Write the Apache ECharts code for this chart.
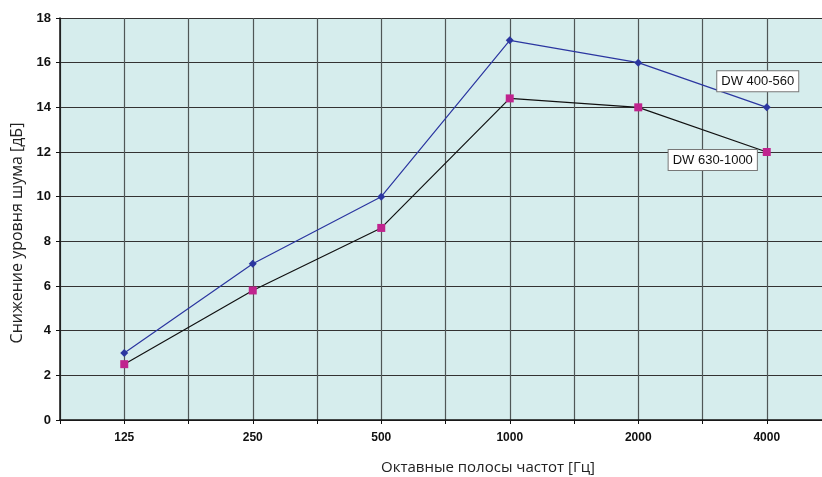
<!DOCTYPE html>
<html><head><meta charset="utf-8">
<script src="https://cdn.jsdelivr.net/npm/echarts@6/dist/echarts.min.js"></script>
<style>html,body{margin:0;padding:0;background:#fff}#c{width:822px;height:477px}</style>
</head><body><div id="c"></div>
<script>
const categories = ['125', '250', '500', '1000', '2000', '4000'];
const dw400 = [3, 7, 10, 17, 16, 14];
const dw630 = [2.5, 5.8, 8.6, 14.4, 14, 12];
const seriesNames = ['DW 400-560', 'DW 630-1000'];
const yTicks = [0, 2, 4, 6, 8, 10, 12, 14, 16, 18];

const chart = echarts.init(document.getElementById('c'), null, {renderer: 'canvas'});
const labelStyle = {
  show: true, color: '#111', fontSize: 13, fontFamily: 'Liberation Sans, Arial, sans-serif',
  backgroundColor: '#fff', borderColor: '#777', borderWidth: 1, padding: [4, 4, 3, 4]
};
function withEndLabel(arr, name, offset) {
  return arr.map((v, i) => i === arr.length - 1
    ? {value: v, label: Object.assign({}, labelStyle, {formatter: name, position: 'inside', offset: offset})}
    : v);
}
chart.setOption({
  animation: false,
  grid: {left: 60, top: 18, width: 771, bottom: 57, show: true, backgroundColor: '#d6eded', borderWidth: 0,
         outerBoundsMode: 'none', containLabel: false},
  xAxis: [{
    type: 'category', data: categories, boundaryGap: true,
    name: 'Октавные полосы частот [Гц]', nameLocation: 'middle', nameGap: 40,
    nameTextStyle: {fontSize: 15, color: '#222', fontFamily: 'Open Sans, sans-serif', padding: [0, 0, 0, 85]},
    axisLine: {lineStyle: {color: '#111', width: 1.5}},
    axisTick: {show: false},
    axisLabel: {fontWeight: 'bold', fontSize: 12, color: '#111', margin: 12, fontFamily: 'Liberation Sans, Arial, sans-serif'},
    splitLine: {show: false}
  }, {
    type: 'value', min: 0, max: 12, interval: 1, position: 'bottom',
    axisLine: {show: false}, axisLabel: {show: false},
    axisTick: {show: true, inside: false, length: 4, lineStyle: {color: '#111'}},
    splitLine: {show: true, lineStyle: {color: '#4f5757', width: 1.2}}
  }],
  yAxis: {
    type: 'value', min: 0, max: 18, interval: 2,
    name: 'Снижение уровня шума [дБ]', nameLocation: 'middle', nameGap: 33,
    nameTextStyle: {fontSize: 16, color: '#222', fontFamily: 'Open Sans, sans-serif', padding: [0, 28, 0, 0]},
    axisLine: {show: true, lineStyle: {color: '#111', width: 1.5}},
    axisTick: {show: true, length: 4, lineStyle: {color: '#111'}},
    axisLabel: {fontWeight: 'bold', fontSize: 13, color: '#111', margin: 9, fontFamily: 'Liberation Sans, Arial, sans-serif'},
    splitLine: {show: true, lineStyle: {color: '#333', width: 1.2}}
  },
  series: [{
    name: seriesNames[0], type: 'line', xAxisIndex: 0,
    data: withEndLabel(dw400, seriesNames[0], [-9, -26]),
    symbol: 'diamond', symbolSize: 8,
    lineStyle: {color: '#2b36a0', width: 1.2},
    itemStyle: {color: '#2b36a0'}, z: 3
  }, {
    name: seriesNames[1], type: 'line', xAxisIndex: 0,
    data: withEndLabel(dw630, seriesNames[1], [-54, 8]),
    symbol: 'rect', symbolSize: 8,
    lineStyle: {color: '#111', width: 1.2},
    itemStyle: {color: '#c0248e'}, z: 2
  }]
});
</script></body></html>
